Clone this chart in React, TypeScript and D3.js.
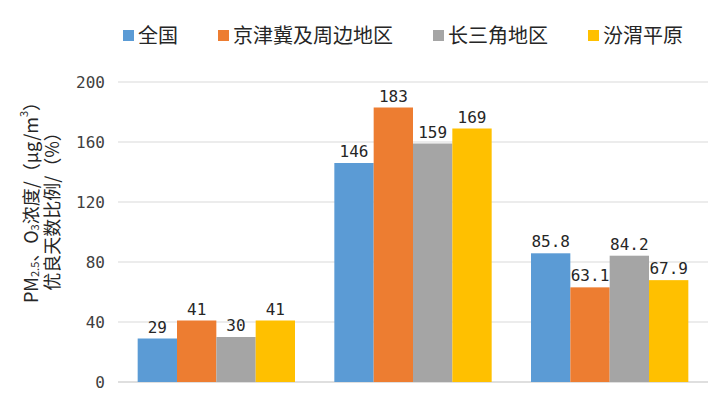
import React from 'react';
import * as d3 from 'd3';

const indicators = ['PM2.5', 'O3', '优良天数比例'];
const regions = ['全国', '京津冀及周边地区', '长三角地区', '汾渭平原'];
const colors = ['#5B9BD5', '#ED7D31', '#A5A5A5', '#FFC000'];
const national = [29, 146, 85.8];
const jingjinji = [41, 183, 63.1];
const yangtze = [30, 159, 84.2];
const fenwei = [41, 169, 67.9];
const yTicks = [0, 40, 80, 120, 160, 200];

const seriesValues = [national, jingjinji, yangtze, fenwei];

const W = 727;
const H = 393;
const margin = { top: 82, right: 19, bottom: 11, left: 118 };
const numFont = '"DejaVu Sans Mono", monospace';
const cjkFont = '"Noto Sans CJK SC", "Noto Sans", sans-serif';

const App = () => {
  const x0 = d3.scaleBand()
    .domain(indicators)
    .range([margin.left, W - margin.right])
    .paddingInner(0.2)
    .paddingOuter(0.1);

  const x1 = d3.scaleBand()
    .domain(regions)
    .range([0, x0.bandwidth()]);

  const y = d3.scaleLinear()
    .domain([0, 200])
    .range([H - margin.bottom, margin.top]);

  // legend laid out left to right, CJK glyphs are full width
  const legendFont = 20;
  let lx = 123;
  const legend = regions.map((name, i) => {
    const item = { name, color: colors[i], x: lx };
    lx += 15 + name.length * legendFont + 40;
    return item;
  });

  return (
    <svg width={W} height={H} style={{ position: 'absolute', left: 0, top: 0, background: '#fff' }}>
      {/* gridlines */}
      {yTicks.map(t => (
        <line key={t} x1={margin.left} x2={W - margin.right} y1={y(t)} y2={y(t)}
          stroke={t === 0 ? '#BFBFBF' : '#D9D9D9'} strokeWidth={1} />
      ))}
      {yTicks.map(t => (
        <text key={'l' + t} x={105} y={y(t)} textAnchor="end" dominantBaseline="central"
          fontFamily={numFont} fontSize={16} fill="#404040">{t}</text>
      ))}

      {/* bars */}
      {indicators.map((ind, gi) => (
        <g key={ind} transform={`translate(${x0(ind)},0)`}>
          {regions.map((r, si) => {
            const v = seriesValues[si][gi];
            const bx = x1(r) as number;
            return (
              <g key={r}>
                <rect x={bx} y={y(v)} width={x1.bandwidth()} height={y(0) - y(v)} fill={colors[si]} />
                <text x={bx + x1.bandwidth() / 2} y={y(v) - 6} textAnchor="middle"
                  fontFamily={numFont} fontSize={16} fill="#262626">{v}</text>
              </g>
            );
          })}
        </g>
      ))}

      {/* legend */}
      {legend.map(d => (
        <g key={d.name}>
          <rect x={d.x} y={30} width={11} height={11} fill={d.color} />
          <text x={d.x + 15} y={34} dominantBaseline="central" fontFamily={cjkFont}
            fontSize={legendFont} fill="#262626">{d.name}</text>
        </g>
      ))}

      {/* y axis title */}
      <text transform="translate(30,198) rotate(-90)" textAnchor="middle" dominantBaseline="central"
        fontFamily={cjkFont} fontSize={18} fill="#262626">
        PM<tspan fontSize={11} dy={4}>2.5</tspan><tspan dy={-4}>、O</tspan><tspan fontSize={11} dy={4}>3</tspan><tspan dy={-4}>浓度/（μg/m</tspan><tspan fontSize={11} dy={-7}>3</tspan><tspan dy={7}>）</tspan>
      </text>
      <text transform="translate(51,207) rotate(-90)" textAnchor="middle" dominantBaseline="central"
        fontFamily={cjkFont} fontSize={18} fill="#262626">
        优良天数比例/（%）
      </text>
    </svg>
  );
};

export default App;
